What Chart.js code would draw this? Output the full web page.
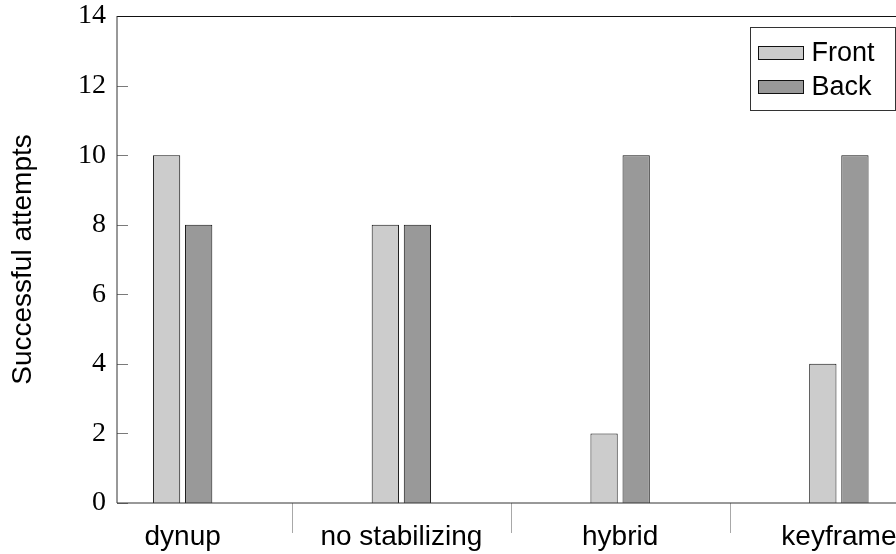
<!DOCTYPE html>
<html><head><meta charset="utf-8">
<script src="https://cdn.jsdelivr.net/npm/chart.js@4"></script>
<style>html,body{margin:0;padding:0;overflow:hidden;background:#fff}</style>
</head><body>
<canvas id="c" width="920" height="554"></canvas>
<script>
const categories = ['dynup', 'no stabilizing', 'hybrid', 'keyframe'];
const frontValues = [10, 8, 2, 4];
const backValues = [8, 8, 10, 10];
const yTickValues = [0, 2, 4, 6, 8, 10, 12, 14];
const seriesNames = ['Front', 'Back'];
const seriesColors = ['#cccccc', '#999999'];

const framePlugin = {
  id: 'frame',
  afterDatasetsDraw(chart) {
    const {ctx, chartArea: a, scales: {x, y}} = chart;
    ctx.save();
    ctx.lineWidth = 1;
    // inward y ticks
    ctx.strokeStyle = '#7a7a7a';
    y.ticks.forEach(t => {
      const py = Math.round(y.getPixelForValue(t.value)) + 0.5;
      ctx.beginPath(); ctx.moveTo(a.left, py); ctx.lineTo(a.left + 11, py); ctx.stroke();
    });
    // category separators below axis
    ctx.strokeStyle = '#a8a8a8';
    for (let i = 0; i < categories.length - 1; i++) {
      const px = Math.round(x.getPixelForValue(i + 0.5)) + 0.5;
      ctx.beginPath(); ctx.moveTo(px, a.bottom); ctx.lineTo(px, a.bottom + 30); ctx.stroke();
    }
    // frame
    ctx.strokeStyle = '#111';
    ctx.beginPath();
    ctx.moveTo(a.left, Math.floor(a.top) + 0.5); ctx.lineTo(a.right, Math.floor(a.top) + 0.5);
    ctx.moveTo(a.right, a.top); ctx.lineTo(a.right, a.bottom);
    ctx.stroke();
    ctx.strokeStyle = '#333';
    ctx.beginPath();
    ctx.moveTo(a.left, a.top); ctx.lineTo(a.left, a.bottom);
    ctx.moveTo(a.left, a.bottom); ctx.lineTo(a.right, a.bottom);
    ctx.stroke();
    // legend
    const bw = 145, bh = 83;
    const bx = Math.round(a.right - 10 - bw) + 0.5, by = Math.round(a.top + 11) + 0.5;
    ctx.fillStyle = '#fff';
    ctx.fillRect(bx, by, bw, bh);
    ctx.strokeStyle = '#333';
    ctx.strokeRect(bx, by, bw, bh);
    ctx.font = '27px "Liberation Sans", Arial, sans-serif';
    ctx.textBaseline = 'alphabetic';
    ctx.textAlign = 'left';
    chart.data.datasets.forEach((ds, i) => {
      const sy = by + 19 + i * 34;
      ctx.fillStyle = ds.backgroundColor;
      ctx.fillRect(bx + 8, sy, 45, 13);
      ctx.strokeStyle = '#111';
      ctx.strokeRect(bx + 8, sy, 45, 13);
      ctx.fillStyle = '#000';
      ctx.fillText(ds.label, bx + 61, sy + 14);
    });
    ctx.restore();
  }
};

new Chart(document.getElementById('c'), {
  type: 'bar',
  data: {
    datasets: [
      { label: seriesNames[0], data: frontValues.map((v, i) => ({x: i, y: v})), backgroundColor: seriesColors[0], borderColor: '#111', borderWidth: 1 },
      { label: seriesNames[1], data: backValues.map((v, i) => ({x: i, y: v})), backgroundColor: seriesColors[1], borderColor: '#111', borderWidth: 1 }
    ]
  },
  options: {
    responsive: false,
    animation: false,
    categoryPercentage: 0.2934,
    barPercentage: 0.85,
    layout: { padding: { left: 0, top: 16, right: 15.5, bottom: 0 } },
    plugins: { legend: { display: false }, tooltip: { enabled: false } },
    scales: {
      x: {
        type: 'linear',
        offset: false,
        min: -0.3,
        max: 3.3,
        afterBuildTicks: s => { s.ticks = categories.map((_, i) => ({value: i})); },
        afterFit: s => { s.height = 51; s.paddingLeft = 0; s.paddingRight = 0; },
        grid: { display: false, drawTicks: false, offset: false },
        border: { display: false },
        ticks: {
          callback: v => categories[v] ?? '',
          color: '#000',
          padding: 17,
          maxRotation: 0,
          autoSkip: false,
          font: { family: '"Liberation Sans", Arial, sans-serif', size: 28 }
        }
      },
      y: {
        min: 0,
        max: 14,
        afterBuildTicks: s => { s.ticks = yTickValues.map(v => ({value: v})); },
        afterFit: s => { s.width = 117; s.paddingTop = 0; s.paddingBottom = 0; },
        grid: { display: false, drawTicks: false },
        border: { display: false },
        ticks: {
          color: '#000',
          padding: 11,
          font: { family: '"Liberation Serif", "Times New Roman", serif', size: 28 }
        },
        title: {
          display: true,
          text: 'Successful attempts',
          color: '#000',
          padding: { top: 6, bottom: 0 },
          font: { family: '"Liberation Sans", Arial, sans-serif', size: 28 }
        }
      }
    }
  },
  plugins: [framePlugin]
});
</script>
</body></html>
